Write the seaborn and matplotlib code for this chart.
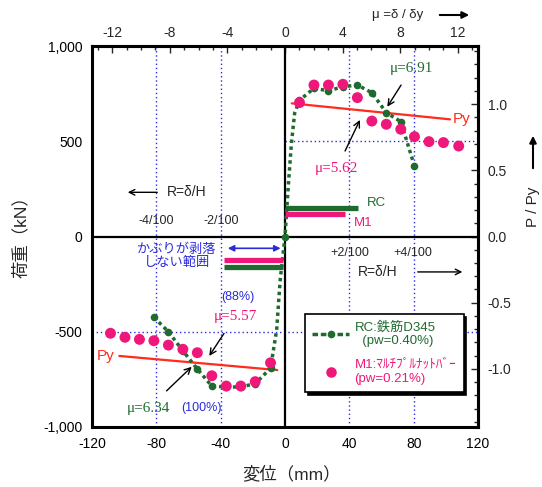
import matplotlib
matplotlib.use("Agg")
import matplotlib.pyplot as plt
import numpy as np
import pandas as pd
import seaborn as sns
from matplotlib.ticker import MultipleLocator, FuncFormatter
from matplotlib.lines import Line2D

# ---------------- data ----------------
rc_disp = [-81.5, -72.5, -63.5, -54.5, -45.5, -36.5, -27.5, -18.5, -9.0, -5.2, -3.0,
           0.0, 2.0, 4.0, 6.0, 9.0, 18.0, 27.0, 36.0, 45.0, 54.0, 63.0, 72.0, 80.5]
rc_load = [-424, -500, -600, -696, -785, -790, -790, -772, -692, -491, -228,
           0, 261, 490, 648, 715, 778, 765, 786, 795, 755, 650, 603, 370]
rc_marker_idx = [0, 1, 2, 3, 4, 5, 6, 7, 8, 11, 15, 16, 17, 18, 19, 20, 21, 22, 23]

m1_disp = [-108.5, -99.5, -90.5, -81.5, -72.5, -63.5, -54.5, -45.5, -36.5, -27.5, -18.5, -9.0,
           9.0, 18.0, 27.0, 36.0, 45.0, 54.0, 63.0, 72.0, 80.5, 89.5, 98.5, 108.0]
m1_load = [-508, -529, -540, -547, -570, -592, -610, -731, -785, -785, -762, -663,
           703, 795, 795, 799, 729, 606, 589, 563, 524, 498, 493, 475]

py_pos_disp = [4.2, 102.6]
py_pos_load = [699, 615]
py_neg_disp = [-103.0, -4.8]
py_neg_load = [-627, -701]

delta_y = 8.95      # mm, yield displacement for the top axis
P_y = 695           # kN, yield load for the right axis

bar_rc_pos = [0, 45.4, 148]     # x0, x1, y
bar_m1_pos = [0, 37.3, 117]
bar_m1_neg = [-37.9, -1.0, -123]
bar_rc_neg = [-37.9, -1.0, -159]

GREEN = "#1f6b2f"
PINK = "#f0177a"
RED = "#ff2b1c"
BLUE = "#2b2bdc"

# ---------------- style ----------------
sns.set_style("white")
plt.rcParams["font.family"] = ["Liberation Sans", "Noto Sans CJK JP", "DejaVu Sans"]
plt.rcParams["axes.unicode_minus"] = False

fig = plt.figure(figsize=(5.42, 4.87), dpi=100)
ax = fig.add_axes([92 / 542, 60 / 487, 386 / 542, 381 / 487])
ax.set_xlim(-120, 120)
ax.set_ylim(-1000, 1000)

# guide lines
for xv in [-80, -40, 40, 80]:
    ax.axvline(xv, color=BLUE, ls=(0, (1, 2)), lw=1.0, zorder=1)
ax.axhline(-500, color=BLUE, ls=(0, (1, 2)), lw=1.0, zorder=1)
ax.hlines(500, 0, 120, color=BLUE, ls=(0, (1, 2)), lw=1.0, zorder=1)
ax.axhline(0, color="black", lw=1.6, zorder=2)
ax.axvline(0, color="black", lw=1.6, zorder=2)

# Py lines
sns.lineplot(x=py_pos_disp, y=py_pos_load, color=RED, lw=1.6, ax=ax, zorder=2.5)
sns.lineplot(x=py_neg_disp, y=py_neg_load, color=RED, lw=1.6, ax=ax, zorder=2.5)

# RC envelope
df_rc = pd.DataFrame({"disp": rc_disp, "load": rc_load})
sns.lineplot(data=df_rc, x="disp", y="load", sort=False, estimator=None, color=GREEN,
             lw=2.5, linestyle=(0, (1, 1)), marker="o", markersize=5.5,
             markeredgewidth=0, markevery=rc_marker_idx, ax=ax, zorder=3)

# M1 envelope
df_m1 = pd.DataFrame({"disp": m1_disp, "load": m1_load})
sns.scatterplot(data=df_m1, x="disp", y="load", color=PINK, s=62, edgecolor="none",
                ax=ax, zorder=4)

# spalling ranges
for (x0, x1, yv), c in [(bar_rc_pos, GREEN), (bar_m1_pos, PINK),
                         (bar_m1_neg, PINK), (bar_rc_neg, GREEN)]:
    ax.hlines(yv, x0, x1, color=c, lw=3.8, zorder=3)

# axes styling
for sp in ax.spines.values():
    sp.set_linewidth(2.2)
    sp.set_color("black")
ax.xaxis.set_major_locator(MultipleLocator(40))
ax.xaxis.set_minor_locator(MultipleLocator(10))
ax.yaxis.set_major_locator(MultipleLocator(500))
ax.yaxis.set_minor_locator(MultipleLocator(100))
ax.yaxis.set_major_formatter(FuncFormatter(lambda v, p: f"{int(round(v)):,}"))
ax.tick_params(which="both", direction="in", top=False, right=False, colors="black")
ax.tick_params(which="major", length=5, width=1, labelsize=10, pad=7)
ax.tick_params(which="minor", length=3, width=1)

sec_x = ax.secondary_xaxis("top", functions=(lambda x: x / delta_y, lambda m: m * delta_y))
sec_x.xaxis.set_major_locator(MultipleLocator(4))
sec_x.xaxis.set_minor_locator(MultipleLocator(1))
sec_x.tick_params(which="major", direction="in", length=5, width=1, labelsize=10, pad=4)
sec_x.tick_params(which="minor", direction="in", length=3, width=1)
sec_x.spines["top"].set_linewidth(2.2)

sec_y = ax.secondary_yaxis("right", functions=(lambda y: y / P_y, lambda r: r * P_y))
sec_y.yaxis.set_major_locator(MultipleLocator(0.5))
sec_y.yaxis.set_minor_locator(MultipleLocator(0.1))
sec_y.yaxis.set_major_formatter(FuncFormatter(lambda v, p: f"{v:.1f}"))
sec_y.tick_params(which="major", direction="in", length=5, width=1, labelsize=10, pad=7)
sec_y.tick_params(which="minor", direction="in", length=3, width=1)
sec_y.spines["right"].set_linewidth(2.2)

# axis labels
ax.set_xlabel("変位（mm）", fontsize=12.5, va="center")
ax.xaxis.set_label_coords(0.516, -0.123)
ax.set_ylabel("荷重（kN）", fontsize=12.5, va="center")
ax.yaxis.set_label_coords(-0.184, 0.509)
fig.text(533 / 542, 1 - 207 / 487, "P / Py", fontsize=11, rotation=90,
         ha="center", va="center")
ax.annotate("", xy=(533 / 542, 1 - 133 / 487), xytext=(533 / 542, 1 - 171 / 487),
            xycoords="figure fraction",
            arrowprops=dict(arrowstyle="-|>", color="black", lw=1.5, mutation_scale=10))

fig.text(398 / 542, 1 - 15 / 487, "μ =δ / δy", fontsize=9.5, ha="center", va="center")
ax.annotate("", xy=(472 / 542, 1 - 15 / 487), xytext=(437 / 542, 1 - 15 / 487),
            xycoords="figure fraction",
            arrowprops=dict(arrowstyle="-|>", color="black", lw=1.5, mutation_scale=10))

# drift annotations
ax.annotate("", xy=(-99.5, 232), xytext=(-77.7, 232),
            arrowprops=dict(arrowstyle="->", color="black", lw=1))
ax.text(-73.4, 232, "R=δ/H", fontsize=10, ha="left", va="center")
ax.text(-79.8, 81, "-4/100", fontsize=9, ha="center", va="center")
ax.text(-39.4, 81, "-2/100", fontsize=9, ha="center", va="center")
ax.text(40.4, -87, "+2/100", fontsize=9, ha="center", va="center")
ax.text(79.6, -87, "+4/100", fontsize=9, ha="center", va="center")
ax.text(45.4, -186, "R=δ/H", fontsize=10, ha="left", va="center")
ax.annotate("", xy=(112, -186), xytext=(80.8, -186),
            arrowprops=dict(arrowstyle="->", color="black", lw=1))

# bar labels
ax.text(57, 177, "RC", color=GREEN, fontsize=9.5, ha="center", va="center")
ax.text(48.5, 69, "M1", color=PINK, fontsize=9.5, ha="center", va="center")
ax.annotate("", xy=(-37.3, -62), xytext=(-1, -62),
            arrowprops=dict(arrowstyle="<|-|>", color=BLUE, lw=1.2, mutation_scale=9))
ax.text(-67.4, -104, "かぶりが剥落\nしない範囲", color=BLUE, fontsize=9.5,
        ha="center", va="center", linespacing=1.05)

# Py labels
ax.text(104.5, 615, "Py", color=RED, fontsize=11, ha="left", va="center")
ax.text(-106, -627, "Py", color=RED, fontsize=11, ha="right", va="center")

# ductility annotations
serif = ["Liberation Serif", "DejaVu Serif"]
ax.annotate("μ=6.91", xy=(63.6, 681), xytext=(78.8, 883), color=GREEN, fontsize=11,
            family=serif, ha="center", va="center",
            arrowprops=dict(arrowstyle="->", color="black", lw=1, shrinkA=6, shrinkB=0))
ax.annotate("μ=5.62", xy=(46.6, 612), xytext=(32.2, 358), color=PINK, fontsize=11,
            family=serif, ha="center", va="center",
            arrowprops=dict(arrowstyle="->", color="black", lw=1, shrinkA=6, shrinkB=0))
ax.text(-29.0, -316, "(88%)", color=BLUE, fontsize=9, ha="center", va="center")
ax.annotate("μ=5.57", xy=(-47.1, -627), xytext=(-31.1, -421), color=PINK, fontsize=11,
            family=serif, ha="center", va="center",
            arrowprops=dict(arrowstyle="->", color="black", lw=1, shrinkA=6, shrinkB=0))
ax.annotate("μ=6.34", xy=(-58.0, -684), xytext=(-85.0, -902), color=GREEN, fontsize=11,
            family=serif, ha="center", va="center",
            arrowprops=dict(arrowstyle="->", color="black", lw=1, shrinkA=8, shrinkB=0))
ax.text(-51.8, -902, "(100%)", color=BLUE, fontsize=9, ha="center", va="center")

# legend
handles = [
    Line2D([], [], color=GREEN, lw=2.5, ls=(0, (1.6, 0.8)), marker="o", markersize=5.5,
           markeredgewidth=0),
    Line2D([], [], color=PINK, ls="none", marker="o", markersize=7.6, markeredgewidth=0),
]
labels = ["RC:鉄筋D345\n  (pw=0.40%)", "M1:ﾏﾙﾁﾌﾟﾙﾅｯﾄﾊﾞｰ\n(pw=0.21%)"]
leg = ax.legend(handles, labels, loc="upper left", bbox_to_anchor=(0.552, 0.2966),
                borderaxespad=0, frameon=True, fancybox=False,
                shadow={"color": "black", "alpha": 1.0},
                framealpha=1, edgecolor="black", fontsize=9.5, labelcolor=[GREEN, PINK],
                handlelength=2.8, handletextpad=0.4, labelspacing=0.9, borderpad=0.55)
leg.get_frame().set_linewidth(1.2)
leg.set_zorder(10)

fig.savefig("out.png", dpi=100)
